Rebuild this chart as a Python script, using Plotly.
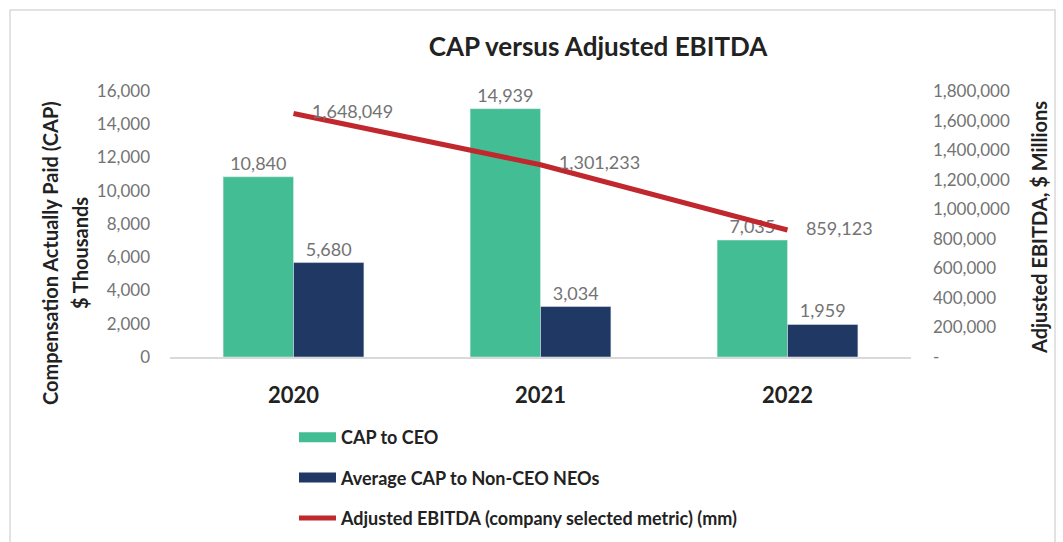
import plotly.graph_objects as go

# data
years = ["2020", "2021", "2022"]
cap_ceo = [10840, 14939, 7035]
cap_neo = [5680, 3034, 1959]
ebitda = [1648049, 1301233, 859123]

left_ticks = [0, 2000, 4000, 6000, 8000, 10000, 12000, 14000, 16000]
right_ticks = [0, 200000, 400000, 600000, 800000, 1000000, 1200000, 1400000, 1600000, 1800000]
right_text = ["-"] + [f"{v:,}" for v in right_ticks[1:]]

GREEN = "#43BD94"
NAVY = "#1F3864"
RED = "#C0282D"
GREY = "#737373"
FONT = "Lato"

W, H = 1063, 542
ML, MR, MT, MB = 170, 152, 91, 185
pw = W - ML - MR
ph = H - MT - MB


def px(x):
    return (x - ML) / pw


def py(y):
    return (H - MB - y) / ph


fig = go.Figure()
fig.add_trace(go.Bar(x=years, y=cap_ceo, marker_color=GREEN, name="CAP to CEO",
                     showlegend=False, texttemplate="%{y:,}", textposition="outside",
                     textfont=dict(size=18, color=GREY), cliponaxis=False))
fig.add_trace(go.Bar(x=years, y=cap_neo, marker_color=NAVY, name="Average CAP to Non-CEO NEOs",
                     showlegend=False, texttemplate="%{y:,}", textposition="outside",
                     textfont=dict(size=18, color=GREY), cliponaxis=False))
fig.add_trace(go.Scatter(x=years, y=ebitda, yaxis="y2", mode="lines+text",
                         line=dict(color=RED, width=5),
                         text=[f"    {v:,}" for v in ebitda], textposition="middle right",
                         textfont=dict(size=18, color=GREY), showlegend=False,
                         cliponaxis=False))

# legend entries (wide swatches like the original)
for nm, col, w, g in [("CAP to CEO", GREEN, 10, "a"),
                      ("Average CAP to Non-CEO NEOs", NAVY, 10, "b"),
                      ("Adjusted EBITDA (company selected metric) (mm)", RED, 5, "c")]:
    fig.add_trace(go.Scatter(x=[None], y=[None], mode="lines", name=nm,
                             line=dict(color=col, width=w), legendgroup=g))

# outer chart border
fig.add_shape(type="rect", xref="paper", yref="paper",
              x0=px(10), x1=px(1055), y0=py(560), y1=py(10),
              line=dict(color="#d9d9d9", width=1.5), layer="below")

# axis titles
tfont = dict(size=20, color="#222", family=FONT)
for txt, x, y in [("<b>Compensation Actually Paid (CAP)</b>", 50, 253),
                  ("<b>$ Thousands</b>", 80, 253),
                  ("<b>Adjusted EBITDA, $ Millions</b>", 1039, 228)]:
    fig.add_annotation(text=txt, textangle=-90, xref="paper", yref="paper",
                       x=px(x), y=py(y), xanchor="center", yanchor="middle",
                       showarrow=False, font=tfont)

fig.update_layout(
    width=W, height=H,
    margin=dict(l=ML, r=MR, t=MT, b=MB, autoexpand=False),
    paper_bgcolor="white", plot_bgcolor="white",
    font=dict(family=FONT, color="black"),
    title=dict(text="<b>CAP versus Adjusted EBITDA</b>", x=598 / W, xanchor="center",
               y=1 - 47 / H, yanchor="middle", font=dict(size=26, color="#222")),
    barmode="group", bargap=0.43, bargroupgap=0,
    xaxis=dict(showline=True, linecolor="#d9d9d9", linewidth=1.5,
               ticks="outside", ticklen=18, tickcolor="rgba(0,0,0,0)",
               tickfont=dict(size=22, color="#222", family=FONT, weight="bold"),
               range=[-0.5, 2.5]),
    yaxis=dict(range=[0, 16000], tickvals=left_ticks, tickformat=",",
               showgrid=False, zeroline=False, ticklabelstandoff=19,
               tickfont=dict(size=17, color=GREY)),
    yaxis2=dict(range=[0, 1800000], tickvals=right_ticks, ticktext=right_text,
                overlaying="y", side="right", showgrid=False, zeroline=False,
                ticklabelstandoff=21, tickfont=dict(size=17, color=GREY)),
    legend=dict(orientation="v", x=294 / W, xanchor="left", xref="container",
                y=1 - 419 / H, yanchor="top", yref="container", tracegroupgap=14,
                itemwidth=37, font=dict(size=18, color="#222", weight="bold"),
                bgcolor="rgba(0,0,0,0)"),
)

fig.write_html("out.html", config={"displayModeBar": False},
               post_script="document.body.style.margin='0';")
